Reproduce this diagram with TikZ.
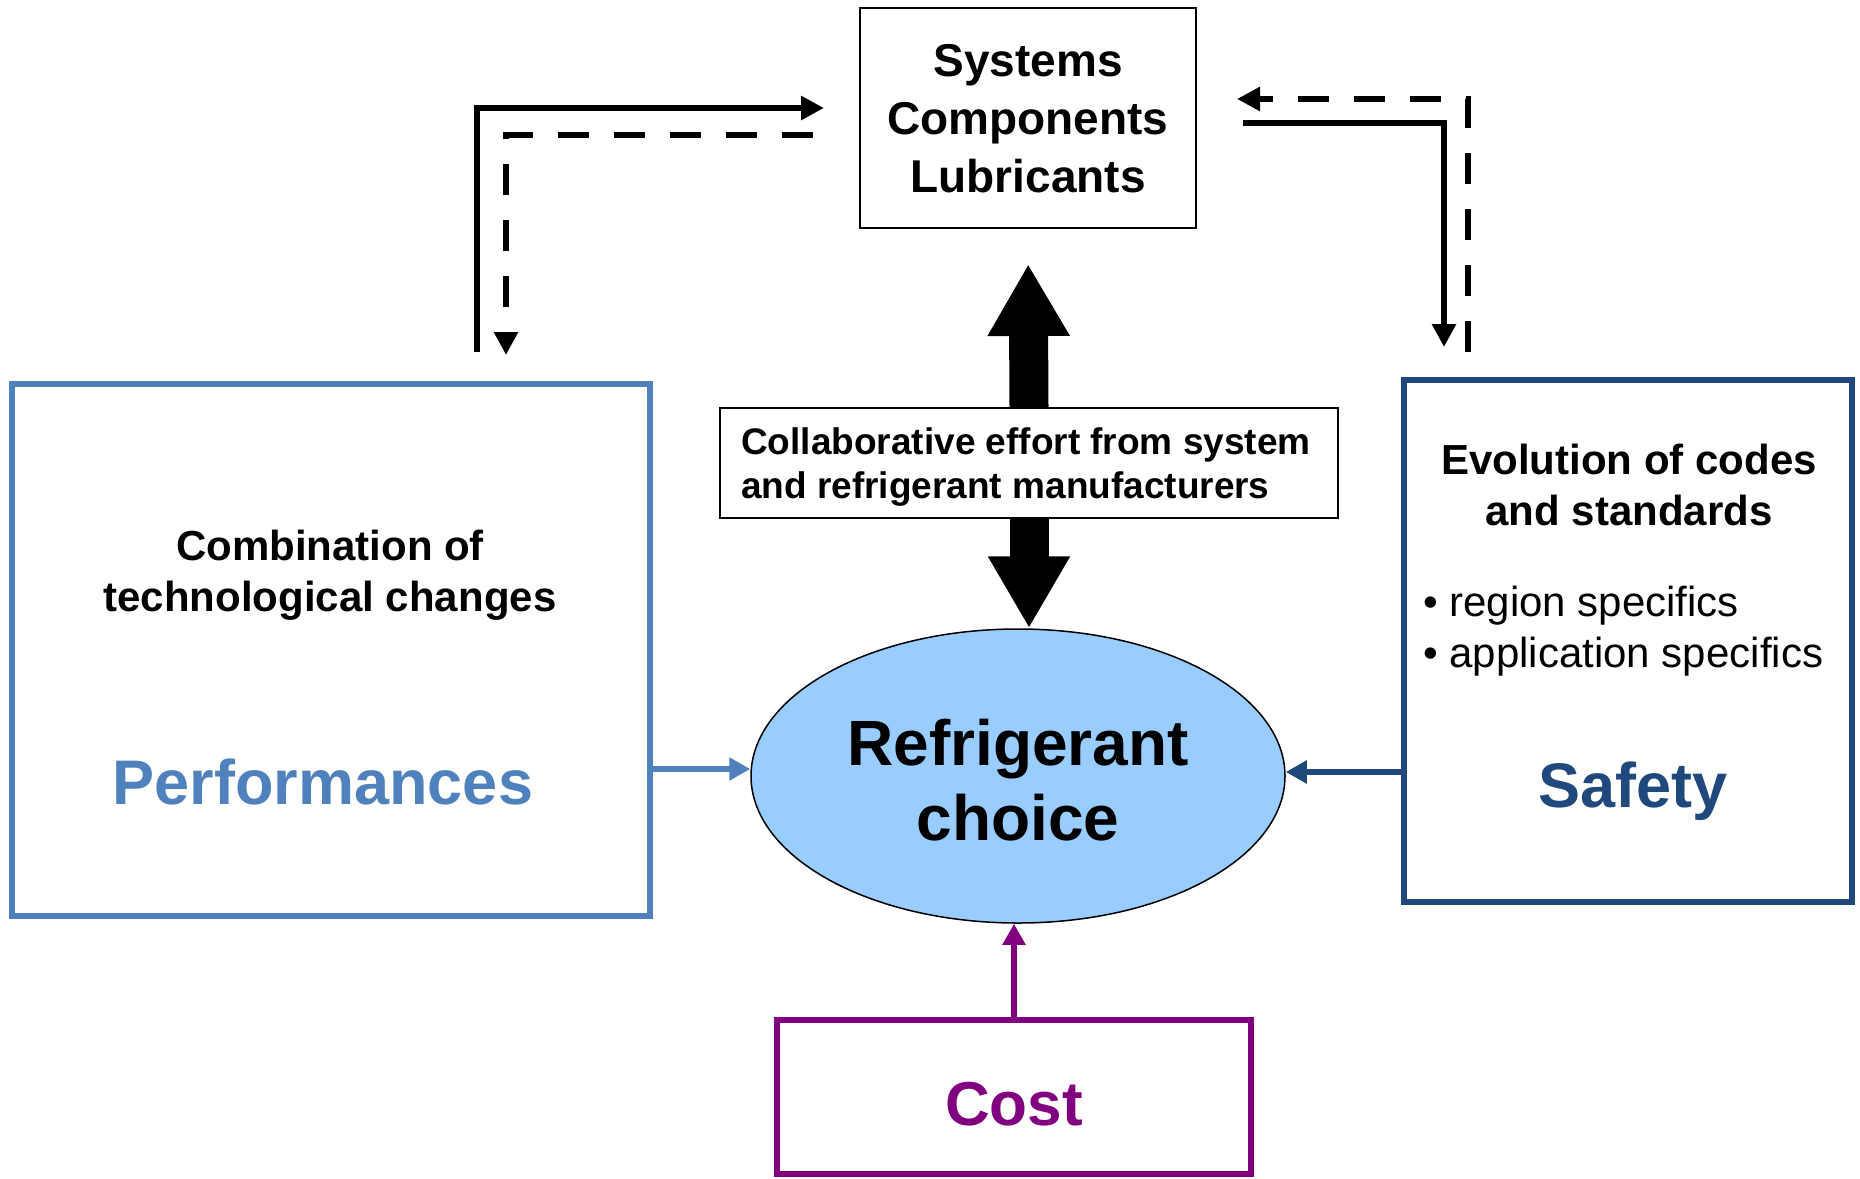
\documentclass[tikz,border=0pt]{standalone}
\usepackage{fontspec}
\setmainfont{Liberation Sans}
\usetikzlibrary{arrows.meta,shapes.geometric}
\definecolor{perfblue}{HTML}{4F81BD}
\definecolor{safeblue}{HTML}{1F497D}
\definecolor{costpurple}{HTML}{800080}
\definecolor{choicefill}{HTML}{99CCFF}
\newcommand{\setfs}[2]{\fontsize{#1}{#2}\selectfont}

\begin{document}
\begin{tikzpicture}[x=1pt,y=-1pt,
  thinbox/.style={draw=black, line width=2pt, rectangle, inner sep=0pt},
  thickbox/.style={draw=#1, line width=6pt, rectangle, inner sep=0pt},
  lbl/.style={inner sep=0pt, anchor=base, align=center},
  lblleft/.style={inner sep=0pt, anchor=base west, align=left},
  flowline/.style={line width=6.5pt, -{Triangle[width=23pt,length=23pt]}},
  flowdash/.style={flowline, dash pattern=on 31pt off 25pt},
  feed/.style={draw=#1, line width=5.5pt, -{Triangle[width=22pt,length=21pt]}},
  bigarrow/.style={line width=39pt, -{Triangle[width=77pt,length=72pt]}}
]
% canvas
\fill[white] (0,0) rectangle (1860,1178);
\useasboundingbox (0,0) rectangle (1860,1178);

% boxes
\node[thinbox, minimum width=336pt, minimum height=220pt] (sys) at (1028,118) {};
\node[thinbox, minimum width=618pt, minimum height=110pt] (collab) at (1029,463) {};
\node[thickbox=perfblue, minimum width=638pt, minimum height=532pt] (perf) at (331,650) {};
\node[thickbox=safeblue, minimum width=448pt, minimum height=522pt] (safety) at (1628,641) {};
\node[thickbox=costpurple, line width=6.5pt, minimum width=474pt, minimum height=154pt] (cost) at (1014,1097) {};
\node[ellipse, draw=black, line width=1.5pt, fill=choicefill, inner sep=0pt,
      minimum width=534pt, minimum height=294pt] (choice) at (1018,776) {};

% labels (base anchor sits on the last line's baseline)
\node[lbl, font=\bfseries\setfs{46}{58}] (systxt) at (1028,192) {Systems\\Components\\Lubricants};
\node[lblleft, font=\bfseries\setfs{37}{44}] (collabtxt) at (741,498) {Collaborative effort from system\\and refrigerant manufacturers};
\node[lbl, font=\bfseries\setfs{42}{51}] (combtxt) at (330,611) {Combination of\\technological changes};
\node[lbl, font=\bfseries\setfs{63}{70}, text=perfblue] (perftxt) at (323,804) {Performances};
\node[lbl, font=\bfseries\setfs{42}{51}] (evotxt) at (1629,525) {Evolution of codes\\and standards};
\node[lblleft, font=\setfs{42}{51}] (bullets) at (1423,667) {• region specifics\\• application specifics};
\node[lbl, font=\bfseries\setfs{63}{70}, text=safeblue] (safetxt) at (1633,807) {Safety};
\node[lbl, font=\bfseries\setfs{64}{75}] (choicetxt) at (1018,840) {Refrigerant\\choice};
\node[lbl, font=\bfseries\setfs{62}{70}, text=costpurple] (costtxt) at (1014,1125) {Cost};

% influences on the choice
\draw[feed=perfblue] (perf.east |- 0,769) -- (choice.west |- 0,769);
\draw[feed=safeblue] (safety.west |- 0,772) -- (choice.east |- 0,772);
\draw[feed=costpurple] (cost.north) -- (cost.north |- choice.south);

% collaboration arrows
\draw[bigarrow, shorten >=35pt] (collab.north) -- (sys.south);
\draw[bigarrow] (collab.south) -- (collab.south |- choice.north);

% feedback loops
\coordinate (lsA) at (477,352);
\coordinate (lsB) at (824,108);
\coordinate (ldA) at (813,135);
\coordinate (ldB) at (506,355);
\coordinate (rsA) at (1243,123);
\coordinate (rsB) at (1444,347);
\coordinate (rdA) at (1468,352);
\coordinate (rdB) at (1237,99);
\draw[flowline] (lsA) |- (lsB);
\draw[flowdash] (ldA) -| (ldB);
\draw[flowline] (rsA) -| (rsB);
\draw[flowdash] (rdA) |- (rdB);
\end{tikzpicture}
\end{document}
